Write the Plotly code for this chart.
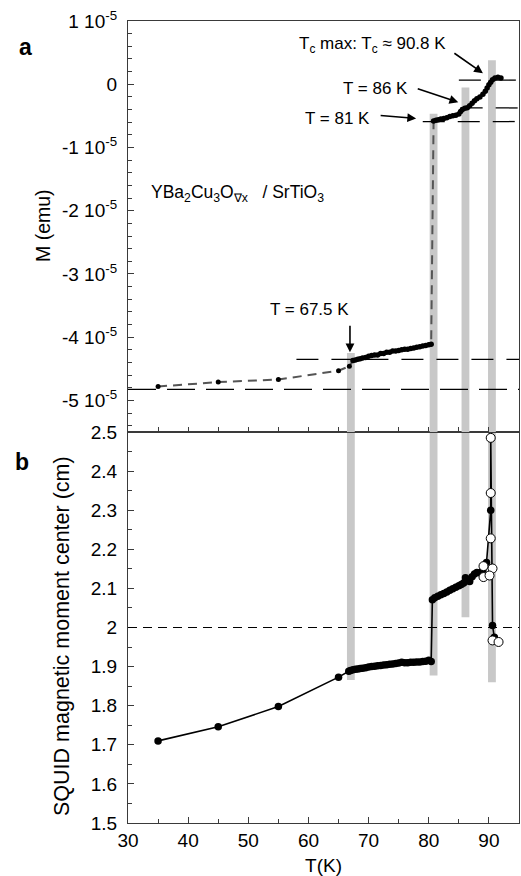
import plotly.graph_objects as go

# ---------------- data ----------------
E5 = 1e-5
# panel a: magnetisation M (in units of 1e-5 emu)
T_low = [35, 45, 55, 65, 66.8]
M_low = [-4.78, -4.71, -4.67, -4.53, -4.46]

T_mid = [67.4, 67.8, 68.2, 68.6, 69.0, 69.5, 70.0, 70.5, 71.0, 71.5, 72.0, 72.5, 73.0, 73.5,
         74.0, 74.5, 75.0, 75.5, 76.0, 76.5, 77.0, 77.5, 78.0, 78.5, 79.0, 79.5, 80.0, 80.4]
M_mid = [-4.37, -4.36, -4.35, -4.34, -4.33, -4.32, -4.30, -4.29, -4.28, -4.28, -4.26, -4.26, -4.24, -4.24,
         -4.22, -4.22, -4.21, -4.20, -4.19, -4.19, -4.18, -4.17, -4.16, -4.15, -4.14, -4.13, -4.12, -4.11]

T_high = [80.8, 81.2, 81.6, 82.0, 82.5, 83.0, 83.5, 84.0, 84.5, 85.0, 85.3, 85.6, 86.0, 86.4,
          86.8, 87.2, 87.6, 88.0, 88.5, 89.0, 89.4, 89.7, 90.0, 90.3, 90.6, 91.0, 91.5, 92.0]
M_high = [-0.58, -0.57, -0.56, -0.55, -0.54, -0.53, -0.51, -0.50, -0.49, -0.47, -0.43, -0.40, -0.38, -0.37,
          -0.34, -0.30, -0.26, -0.23, -0.20, -0.16, -0.11, -0.06, -0.01, 0.03, 0.07, 0.10, 0.11, 0.10]

# panel b: SQUID magnetic moment center (cm)
T_ctr = [35, 45, 55, 65,
         66.7, 67.0, 67.4, 67.8, 68.2, 68.6, 69.0, 69.5, 70.0,
         70.5, 71.0, 71.5, 72.0, 72.5, 73.0, 73.5, 74.0, 74.5, 75.0,
         75.5, 76.0, 76.5, 77.0, 77.5, 78.0, 78.5, 79.0, 79.5, 80.0,
         80.4,
         80.6, 81.0, 81.5, 82.0, 82.5, 83.0, 83.5, 84.0, 84.5, 85.0,
         85.4, 85.8, 86.1, 86.4, 86.8, 87.2, 87.6, 88.0, 88.5, 89.0,
         89.6, 90.3, 90.3, 90.6, 90.9]
C_ctr = [1.710, 1.746, 1.798, 1.873,
         1.888, 1.890, 1.892, 1.893, 1.894, 1.895, 1.896, 1.897, 1.899,
         1.900, 1.901, 1.902, 1.903, 1.904, 1.905, 1.906, 1.907, 1.908, 1.909,
         1.911, 1.910, 1.910, 1.911, 1.911, 1.912, 1.912, 1.913, 1.914, 1.916,
         1.913,
         2.071, 2.076, 2.080, 2.084, 2.087, 2.091, 2.095, 2.099, 2.103, 2.107,
         2.110, 2.114, 2.127, 2.120, 2.118, 2.130, 2.137, 2.141, 2.140, 2.145,
         2.166, 2.300, 2.485, 2.005, 1.975]

T_open = [90.3, 90.3, 90.3, 89.1, 89.1, 90.6, 90.1, 90.6, 91.6]
C_open = [2.485, 2.344, 2.228, 2.157, 2.129, 2.151, 2.133, 1.967, 1.963]

# grey transition bands
band_T = [67.05, 80.8, 86.1, 90.5]
band_top_M = [-4.25, -0.465, -0.05, 0.38]       # upper end in panel a (1e-5 emu)
band_bot_C = [1.866, 1.877, 2.026, 1.860]       # lower end in panel b (cm)
band_w = 1.3

# horizontal reference levels in panel a (1e-5 emu) and their start temperature
ref_M = [-4.825, -4.35, -0.59, -0.375, 0.065]
ref_T0 = [30, 58, 79, 85.3, 85.0]
ref_dash = ["28px,11px", "22px,13px", "22px,13px", "22px,13px", "22px,13px"]

center_ref = 2.0

ytick_a = [1, 0, -1, -2, -3, -4, -5]
ytext_a = ["1 10<sup>-5</sup>", "0", "-1 10<sup>-5</sup>", "-2 10<sup>-5</sup>",
           "-3 10<sup>-5</sup>", "-4 10<sup>-5</sup>", "-5 10<sup>-5</sup>"]
ytick_b = [1.5, 1.6, 1.7, 1.8, 1.9, 2.0, 2.1, 2.2, 2.3, 2.4, 2.5]
ytext_b = ["1.5", "1.6", "1.7", "1.8", "1.9", "2", "2.1", "2.2", "2.3", "2.4", "2.5"]
xtick = [30, 40, 50, 60, 70, 80, 90]

# ---------------- figure ----------------
FONT = "Liberation Sans, Arial, sans-serif"
AX = "#3a3a3a"
fig = go.Figure()

# dashed connecting line through all M data
T_all = T_low + T_mid + T_high
M_all = [m * E5 for m in (M_low + M_mid + M_high)]
fig.add_trace(go.Scatter(x=T_all, y=M_all, mode="lines", xaxis="x2", yaxis="y",
                         line=dict(color="#555555", width=2, dash="9px,6px"),
                         hoverinfo="skip", showlegend=False))
fig.add_trace(go.Scatter(x=T_low, y=[m * E5 for m in M_low], mode="markers", xaxis="x2", yaxis="y",
                         marker=dict(color="black", size=5), showlegend=False))
fig.add_trace(go.Scatter(x=T_mid, y=[m * E5 for m in M_mid], mode="lines+markers", xaxis="x2", yaxis="y",
                         line=dict(color="black", width=2.5),
                         marker=dict(color="black", size=5.5), showlegend=False))
fig.add_trace(go.Scatter(x=T_high, y=[m * E5 for m in M_high], mode="lines+markers", xaxis="x2", yaxis="y",
                         line=dict(color="black", width=2.5),
                         marker=dict(color="black", size=5.5), showlegend=False))

# panel b
fig.add_trace(go.Scatter(x=T_ctr, y=C_ctr, mode="lines+markers", xaxis="x", yaxis="y2",
                         line=dict(color="black", width=1.6),
                         marker=dict(color="black", size=7.5), showlegend=False))
fig.add_trace(go.Scatter(x=T_open, y=C_open, mode="markers", xaxis="x", yaxis="y2",
                         marker=dict(color="white", size=9, line=dict(color="black", width=1)),
                         showlegend=False))

shapes = []
for t, mt, cb in zip(band_T, band_top_M, band_bot_C):
    shapes.append(dict(type="rect", xref="x2", yref="y", x0=t - band_w / 2, x1=t + band_w / 2,
                       y0=mt * E5, y1=-5.5 * E5, fillcolor="#c8c8c8", line_width=0, layer="below"))
    shapes.append(dict(type="rect", xref="x", yref="y2", x0=t - band_w / 2, x1=t + band_w / 2,
                       y0=cb, y1=2.5, fillcolor="#c8c8c8", line_width=0, layer="below"))
for m, t0, d in zip(ref_M, ref_T0, ref_dash):
    shapes.append(dict(type="line", xref="x2", yref="y", x0=t0, x1=95, y0=m * E5, y1=m * E5,
                       line=dict(color="black", width=1.3, dash=d), layer="below"))
shapes.append(dict(type="line", xref="x", yref="y2", x0=30, x1=95, y0=center_ref, y1=center_ref,
                   line=dict(color="black", width=1.2, dash="9px,6px")))

ann = []
txt = dict(font=dict(family=FONT, size=17, color="black"), showarrow=False, xref="x2", yref="y",
           yanchor="middle")
ann.append(dict(text="T<sub>c</sub> max: T<sub>c</sub> ≈ 90.8 K", x=83.2, y=0.62 * E5, xanchor="right", **txt))
ann.append(dict(text="T = 86 K", x=76.9, y=-0.06 * E5, xanchor="right", **txt))
ann.append(dict(text="T = 81 K", x=70.5, y=-0.54 * E5, xanchor="right", **txt))
ann.append(dict(text="T = 67.5 K", x=60.25, y=-3.56 * E5, xanchor="center", **txt))
ann.append(dict(text="YBa<sub>2</sub>Cu<sub>3</sub>O<sub>∇x</sub>\u00a0\u00a0\u00a0/ SrTiO<sub>3</sub>",
                x=33.5, y=-1.73 * E5, xanchor="left", yanchor="middle",
                font=dict(family=FONT, size=17.5, color="black"),
                showarrow=False, xref="x2", yref="y"))

arrows = [(89.0, 0.175, -30, -21), (84.9, -0.286, -42, -14), (77.9, -0.54, -37, -3), (66.9, -4.24, 0, -28)]
for hx, hy, ax_, ay_ in arrows:
    ann.append(dict(text="", x=hx, y=hy * E5, xref="x2", yref="y", ax=ax_, ay=ay_,
                    showarrow=True, arrowhead=2, arrowsize=1.1, arrowwidth=1.6, arrowcolor="black"))

lab = dict(xref="paper", yref="paper", showarrow=False, xanchor="center", yanchor="middle")
ann.append(dict(text="<b>a</b>", x=-0.263, y=0.9676, font=dict(family=FONT, size=23, color="black"), **lab))
ann.append(dict(text="<b>b</b>", x=-0.271, y=0.450, font=dict(family=FONT, size=23, color="black"), **lab))
ann.append(dict(text="M (emu)", x=-0.2174, y=0.7456, textangle=-90,
                font=dict(family=FONT, size=19.5, color="black"), **lab))
ann.append(dict(text="SQUID magnetic moment center (cm)", x=-0.1688, y=0.2332, textangle=-90,
                font=dict(family=FONT, size=21.5, color="black"), **lab))

tickfont = dict(family=FONT, size=19, color="black")
fig.update_layout(
    width=521, height=876,
    margin=dict(l=128, r=2, t=21, b=53),
    plot_bgcolor="white", paper_bgcolor="white",
    showlegend=False,
    shapes=shapes, annotations=ann,
    xaxis=dict(domain=[0, 1], anchor="y2", range=[30, 95], tickmode="array", tickvals=xtick,
               ticks="inside", ticklen=6, tickcolor=AX, tickwidth=1.2,
               minor=dict(ticks="inside", ticklen=4, dtick=5, tick0=30, tickcolor=AX, tickwidth=1.2),
               showline=True, linecolor=AX, linewidth=1.3, mirror=True, showgrid=False, zeroline=False,
               tickfont=tickfont, ticklabelstandoff=0, automargin=False,
               title=dict(text="T(K)", font=dict(family=FONT, size=19, color="black"), standoff=11)),
    xaxis2=dict(domain=[0, 1], anchor="y", matches="x", range=[30, 95], dtick=5, tick0=30,
                ticks="inside", ticklen=5, tickcolor=AX, tickwidth=1.2, showticklabels=False,
                showline=True, linecolor=AX, linewidth=1.3, mirror=True, showgrid=False, zeroline=False),
    yaxis=dict(domain=[0.4875, 1], anchor="x2", range=[-5.5 * E5, 1 * E5], tickmode="array",
               tickvals=[v * E5 for v in ytick_a], ticktext=ytext_a,
               ticks="inside", ticklen=6, tickcolor=AX, tickwidth=1.2,
               minor=dict(ticks="inside", ticklen=4, dtick=0.2 * E5, tick0=0, tickcolor=AX, tickwidth=1.2),
               showline=True, linecolor=AX, linewidth=1.3, mirror=True, showgrid=False, zeroline=False,
               tickfont=tickfont, ticklabelstandoff=6, automargin=False),
    yaxis2=dict(domain=[0, 0.4875], anchor="x", range=[1.5, 2.5], tickmode="array",
                tickvals=ytick_b, ticktext=ytext_b,
                ticks="inside", ticklen=6, tickcolor=AX, tickwidth=1.2,
                minor=dict(ticks="inside", ticklen=4, dtick=0.05, tick0=1.5, tickcolor=AX, tickwidth=1.2),
                showline=True, linecolor=AX, linewidth=1.3, mirror=True, showgrid=False, zeroline=False,
                tickfont=tickfont, ticklabelstandoff=6, automargin=False),
)

fig.write_html("out.html", config={"displayModeBar": False},
               post_script="document.body.style.margin='0';document.body.style.overflow='hidden';")
